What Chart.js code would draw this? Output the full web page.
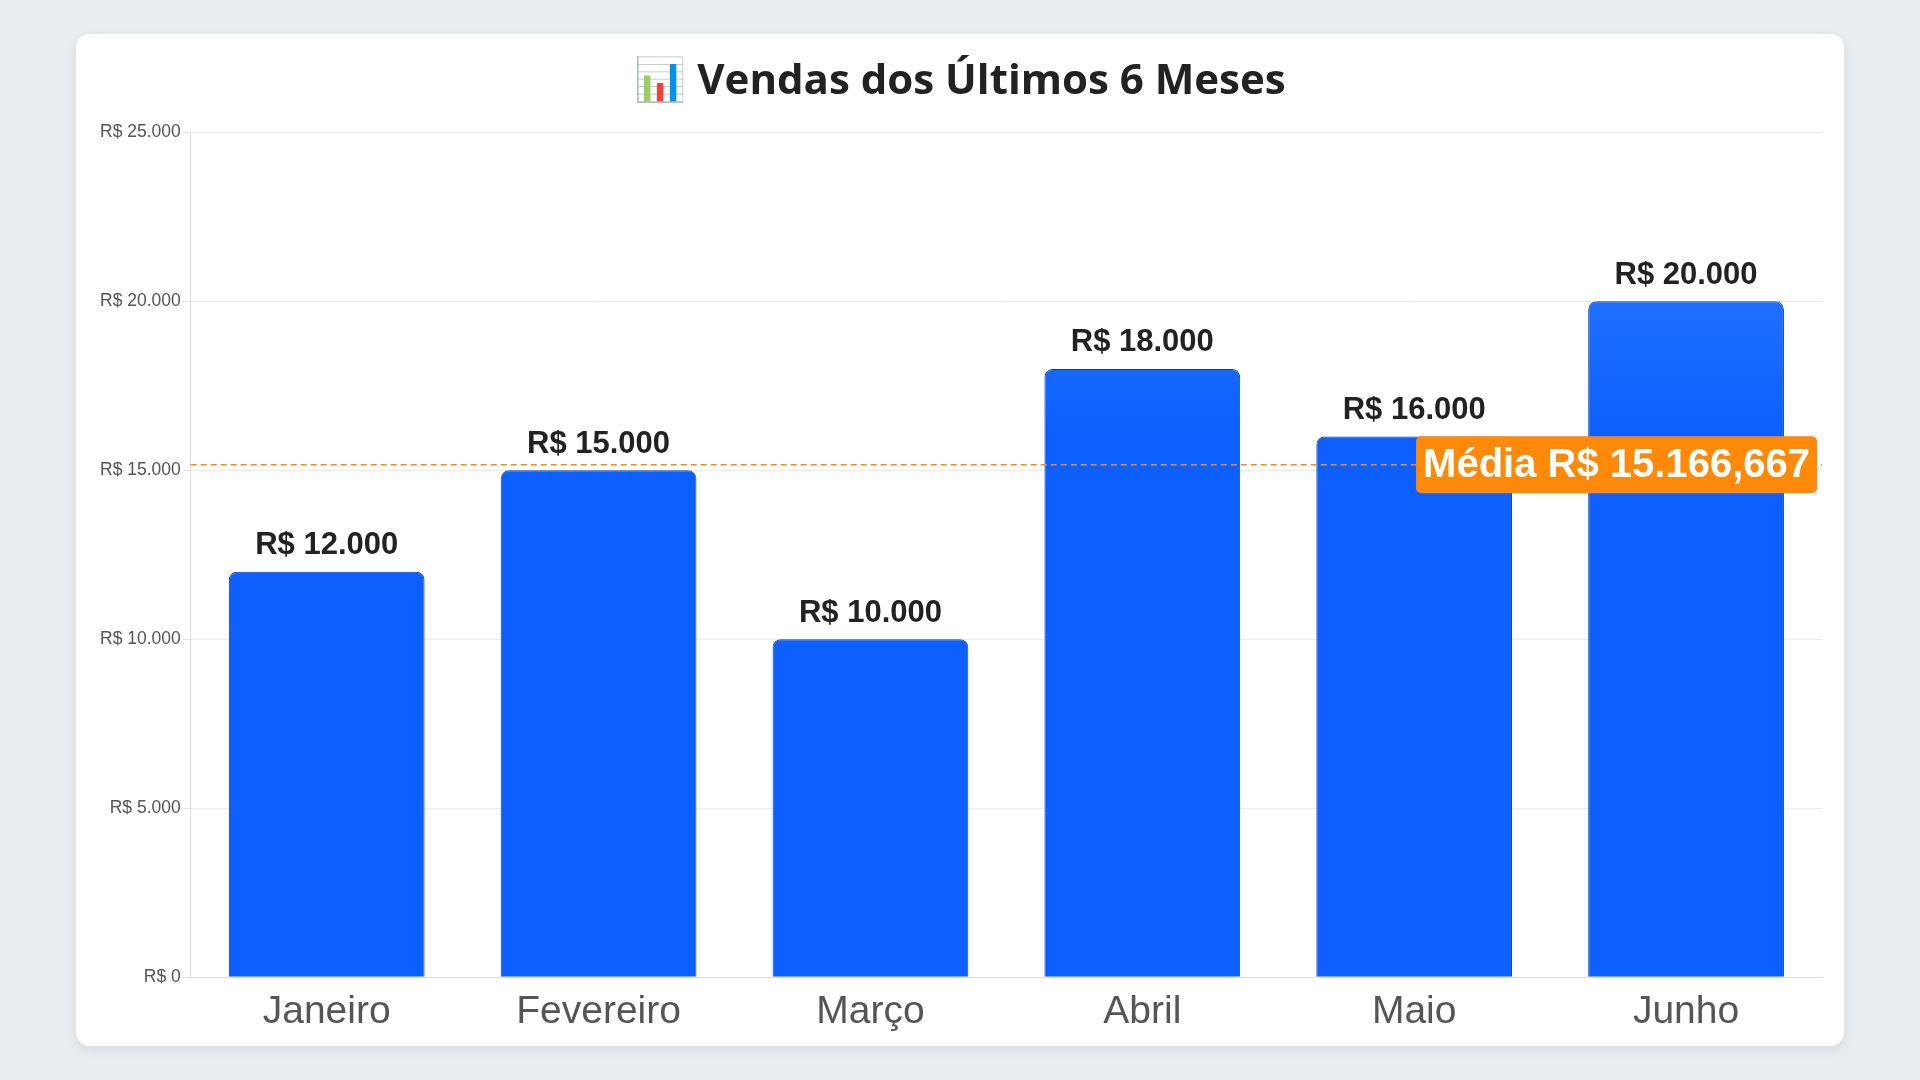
<!DOCTYPE html>
<html lang="pt-BR">
<head>
<meta charset="utf-8">
<script src="https://cdn.jsdelivr.net/npm/chart.js@4.4.1/dist/chart.umd.min.js"></script>
<style>
  html, body { margin: 0; padding: 0; width: 1920px; height: 1080px; background: #eaedf0; overflow: hidden; }
  #card {
    position: absolute; left: 76px; top: 34px; width: 1768px; height: 1012px;
    background: #ffffff; border-radius: 14px;
    box-shadow: 0 4px 14px rgba(0,0,0,0.08);
    box-sizing: border-box; padding: 14px 22px 6px 22px;
  }
  #wrap { position: relative; width: 100%; height: 100%; }
</style>
</head>
<body>
<div id="card"><div id="wrap"><canvas id="c"></canvas></div></div>
<script>
const titleText = '📊 Vendas dos Últimos 6 Meses';
const months = ['Janeiro', 'Fevereiro', 'Março', 'Abril', 'Maio', 'Junho'];
const sales = [12000, 15000, 10000, 18000, 16000, 20000];
const yTicks = [0, 5000, 10000, 15000, 20000, 25000];
const averageLabelPrefix = 'Média R$ ';

function fmtBR(v, maxDec) {
  const neg = v < 0; v = Math.abs(v);
  let s = v.toFixed(maxDec);
  let [ip, dp] = s.split('.');
  ip = ip.replace(/\B(?=(\d{3})+(?!\d))/g, '.');
  if (dp) { dp = dp.replace(/0+$/, ''); }
  return (neg ? '-' : '') + ip + (dp ? ',' + dp : '');
}
const avg = sales.reduce((a, b) => a + b, 0) / sales.length;

const labelsPlugin = {
  id: 'labelsPlugin',
  afterDatasetsDraw(chart) {
    const ctx = chart.ctx;
    const meta = chart.getDatasetMeta(0);
    ctx.save();
    ctx.font = 'bold 31px "Liberation Sans", Arial, sans-serif';
    ctx.fillStyle = '#222222';
    ctx.textAlign = 'center';
    ctx.textBaseline = 'middle';
    meta.data.forEach((bar, i) => {
      ctx.fillText('R$ ' + fmtBR(sales[i], 0), bar.x, bar.y - 26);
    });
    // average line
    const ya = chart.scales.y.getPixelForValue(avg);
    const area = chart.chartArea;
    ctx.strokeStyle = '#ff8a0a';
    ctx.lineWidth = 1.5;
    ctx.setLineDash([6, 4]);
    ctx.beginPath();
    ctx.moveTo(area.left, ya);
    ctx.lineTo(area.right, ya);
    ctx.stroke();
    ctx.setLineDash([]);
    // label
    const txt = averageLabelPrefix + fmtBR(avg, 3);
    ctx.font = 'bold 40px "Liberation Sans", Arial, sans-serif';
    const w = ctx.measureText(txt).width + 14;
    const h = 57;
    const x1 = area.right - 5 - w;
    const y1 = ya - h / 2;
    ctx.fillStyle = '#ff8a0a';
    ctx.beginPath();
    ctx.roundRect(x1, y1, w, h, 5);
    ctx.fill();
    ctx.fillStyle = '#ffffff';
    ctx.textAlign = 'center';
    ctx.fillText(txt, x1 + w / 2, ya + 1);
    ctx.restore();
  }
};

const ctx = document.getElementById('c').getContext('2d');
new Chart(ctx, {
  type: 'bar',
  data: {
    labels: months,
    datasets: [{
      label: 'Vendas',
      data: sales,
      backgroundColor: (c) => {
        const area = c.chart.chartArea;
        if (!area) return '#0d60ff';
        const g = c.chart.ctx.createLinearGradient(0, area.top, 0, area.bottom);
        g.addColorStop(0, '#3a86ff');
        g.addColorStop(0.2, '#1f6fff');
        g.addColorStop(0.35, '#0d60ff');
        g.addColorStop(1, '#0d60ff');
        return g;
      },
      borderColor: '#0b3f9e',
      borderWidth: 1,
      borderRadius: 8,
      borderSkipped: 'bottom'
    }]
  },
  options: {
    responsive: true,
    maintainAspectRatio: false,
    animation: false,
    layout: { padding: { top: 0, right: 0, bottom: 0, left: 0 } },
    plugins: {
      legend: { display: false },
      tooltip: { enabled: false },
      title: {
        display: true,
        text: titleText,
        color: '#222222',
        font: { family: '"Open Sans", Montserrat, sans-serif', size: 42, weight: 'bold' },
        padding: { top: 9, bottom: 25 }
      }
    },
    scales: {
      x: {
        grid: { display: false },
        border: { color: '#dddddd' },
        ticks: { color: '#555555', font: { family: '"Liberation Sans", Arial, sans-serif', size: 39 }, padding: 4 }
      },
      y: {
        min: 0,
        max: 25000,
        afterBuildTicks: (axis) => { axis.ticks = yTicks.map(v => ({ value: v })); },
        grid: { color: '#e9e9e9', tickLength: 8, tickColor: '#e0e0e0' },
        border: { color: '#dddddd' },
        ticks: {
          color: '#555555',
          font: { family: '"Liberation Sans", Arial, sans-serif', size: 17.5 },
          padding: 2,
          callback: (v) => 'R$ ' + fmtBR(v, 0)
        }
      }
    }
  },
  plugins: [labelsPlugin]
});
</script>
</body>
</html>
